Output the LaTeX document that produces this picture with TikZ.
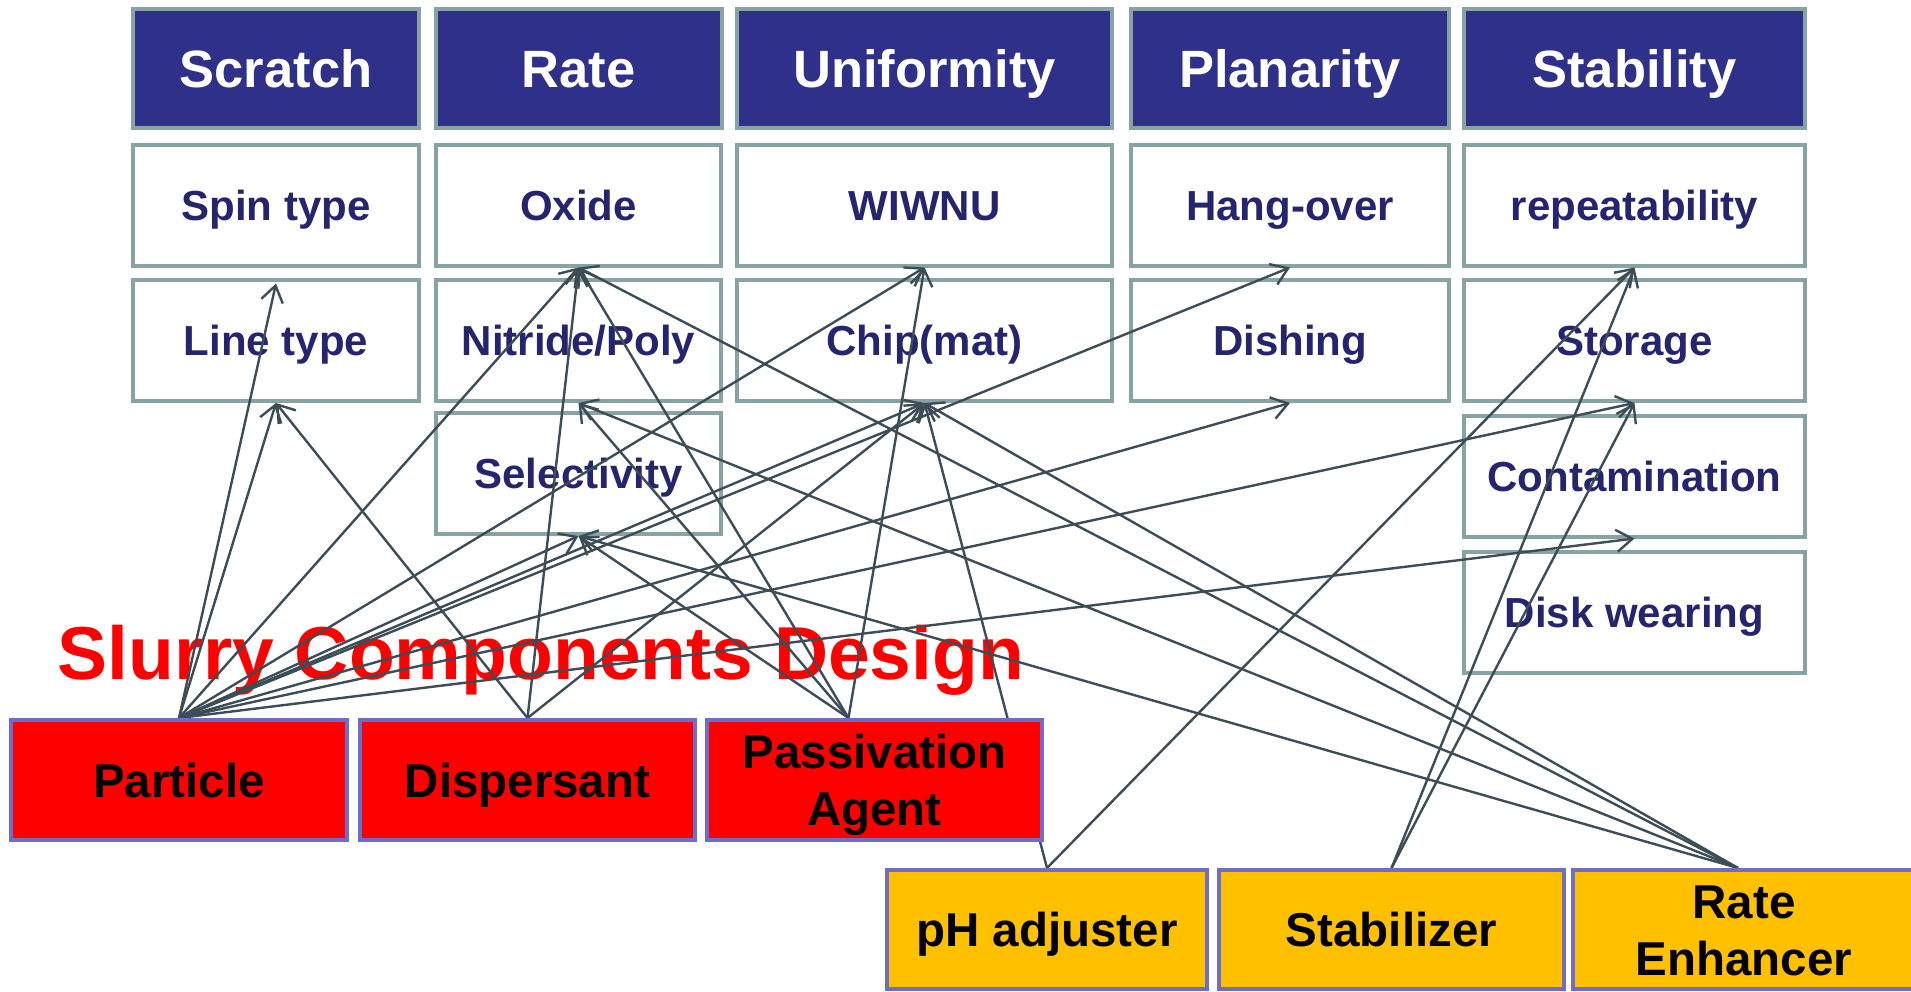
\documentclass[tikz,border=0pt]{standalone}
\usepackage{fontspec}
\setmainfont{Liberation Sans}
\usepackage{tikz}
\usetikzlibrary{arrows.meta}
\definecolor{myheadcolor}{HTML}{2E3089}
\definecolor{myframecolor}{HTML}{88A3A4}
\definecolor{mytextcolor}{HTML}{25256F}
\definecolor{mylinecolor}{HTML}{3D4D57}
\definecolor{mypartcolor}{HTML}{FF0000}
\definecolor{myaddcolor}{HTML}{FFC000}
\definecolor{myedgecolor}{HTML}{6D6DCC}
\pgfdeclarelayer{front}
\pgfsetlayers{main,front}
\tikzset{
  headbox/.style={draw=myframecolor, fill=myheadcolor, line width=2pt, rectangle, inner sep=0pt, minimum height=59.5pt, text=white, font=\fontsize{26.25pt}{31pt}\selectfont\bfseries, text height=18.8pt, text depth=0pt},
  itembox/.style={draw=myframecolor, fill=white, line width=2pt, rectangle, inner sep=0pt, minimum height=60.5pt, text=mytextcolor, font=\fontsize{21pt}{25pt}\selectfont\bfseries, text height=15pt, text depth=0pt},
  partbox/.style={draw=myedgecolor, fill=mypartcolor, line width=2pt, rectangle, inner sep=0pt, minimum height=60pt, align=center, font=\fontsize{23.75pt}{28.5pt}\selectfont\bfseries, text height=17pt, text depth=0pt},
  addbox/.style={partbox, fill=myaddcolor, minimum height=59.5pt},
  twolines/.style={text height=45.5pt, text depth=0pt},
  link/.style={draw=mylinecolor, line width=1.2pt, -{Straight Barb[length=8pt,width=11pt]}},
}

\begin{document}
\begin{tikzpicture}[x=0.5pt, y=-0.5pt]%
\useasboundingbox (0,0) rectangle (1911,991);%
\clip (0,0) rectangle (1911,991);%
\node[headbox, minimum width=143pt] (scratch) at (276, 68.5) {Scratch};%
\node[headbox, minimum width=143pt] (ratehead) at (578.5, 68.5) {Rate};%
\node[headbox, minimum width=187.5pt] (unif) at (924.5, 68.5) {Uniformity};%
\node[headbox, minimum width=159pt] (plan) at (1290, 68.5) {Planarity};%
\node[headbox, minimum width=170.5pt] (stab) at (1634.5, 68.5) {Stability};%
\node[itembox, minimum width=143pt] (spin) at (276, 205) {Spin type};%
\node[itembox, minimum width=142.5pt] (oxide) at (578.5, 205) {Oxide};%
\node[itembox, minimum width=187.5pt] (wiwnu) at (924.5, 205) {WIWNU};%
\node[itembox, minimum width=159pt] (hang) at (1290, 205) {Hang-over};%
\node[itembox, minimum width=170.5pt] (repeat) at (1634.5, 205) {repeatability};%
\node[itembox, minimum width=143pt] (line) at (276, 340.5) {Line type};%
\node[itembox, minimum width=142.5pt] (nitride) at (578.5, 340.5) {Nitride/Poly};%
\node[itembox, minimum width=187.5pt] (chip) at (924.5, 340.5) {Chip(mat)};%
\node[itembox, minimum width=159pt] (dish) at (1290, 340.5) {Dishing};%
\node[itembox, minimum width=170.5pt] (store) at (1634.5, 340.5) {Storage};%
\node[itembox, minimum width=142.5pt] (select) at (578.5, 473.5) {Selectivity};%
\node[itembox, minimum width=170.5pt] (contam) at (1634.5, 476) {Contamination};%
\node[itembox, minimum width=170.5pt] (disk) at (1634.5, 612.5) {Disk wearing};%
\node[anchor=base west, inner sep=0pt, text=mypartcolor, font=\fontsize{37.5pt}{45pt}\selectfont\bfseries] (title) at (57, 679) {Slurry Components Design};%
\begin{pgfonlayer}{front}%
\node[partbox, minimum width=168pt] (particle) at (179, 780) {Particle};%
\node[partbox, minimum width=167.5pt] (dispers) at (527.5, 780) {Dispersant};%
\node[partbox, twolines, minimum width=167.5pt] (passiv) at (874.5, 780) {Passivation\\Agent};%
\node[addbox, minimum width=160pt] (phadj) at (1047, 929.5) {pH adjuster};%
\node[addbox, minimum width=172.5pt] (stabil) at (1391.5, 929.5) {Stabilizer};%
\node[addbox, twolines, minimum width=171pt] (rateenh) at (1744, 929.5) {Rate\\Enhancer};%
\end{pgfonlayer}%
% particle
\draw[link] (particle.north) -- ([yshift=-8pt]spin.south);%
\draw[link] (particle.north) -- (line.south);%
\draw[link] (particle.north) -- (oxide.south);%
\draw[link] (particle.north) -- (wiwnu.south);%
\draw[link] (particle.north) -- (hang.south);%
\draw[link] (particle.north) -- (select.south);%
\draw[link] (particle.north) -- (chip.south);%
\draw[link] (particle.north) -- (dish.south);%
\draw[link] (particle.north) -- (store.south);%
\draw[link] (particle.north) -- (contam.south);%
% dispersant
\draw[link] (dispers.north) -- (line.south);%
\draw[link] (dispers.north) -- (oxide.south);%
\draw[link] (dispers.north) -- (chip.south);%
% passivation agent
\draw[link] ([xshift=-13pt]passiv.north) -- (oxide.south);%
\draw[link] ([xshift=-13pt]passiv.north) -- (nitride.south);%
\draw[link] ([xshift=-13pt]passiv.north) -- (select.south);%
\draw[link] ([xshift=-13pt]passiv.north) -- (wiwnu.south);%
% pH adjuster, stabilizer
\draw[link] (phadj.north) -- (chip.south);%
\draw[link] (phadj.north) -- (repeat.south);%
\draw[link] (stabil.north) -- (repeat.south);%
\draw[link] (stabil.north) -- (store.south);%
% rate enhancer
\draw[link] ([xshift=-3pt]rateenh.north) -- (oxide.south);%
\draw[link] ([xshift=-3pt]rateenh.north) -- (nitride.south);%
\draw[link] ([xshift=-3pt]rateenh.north) -- (select.south);%
\draw[link] ([xshift=-3pt]rateenh.north) -- (chip.south);%
\end{tikzpicture}
\end{document}
